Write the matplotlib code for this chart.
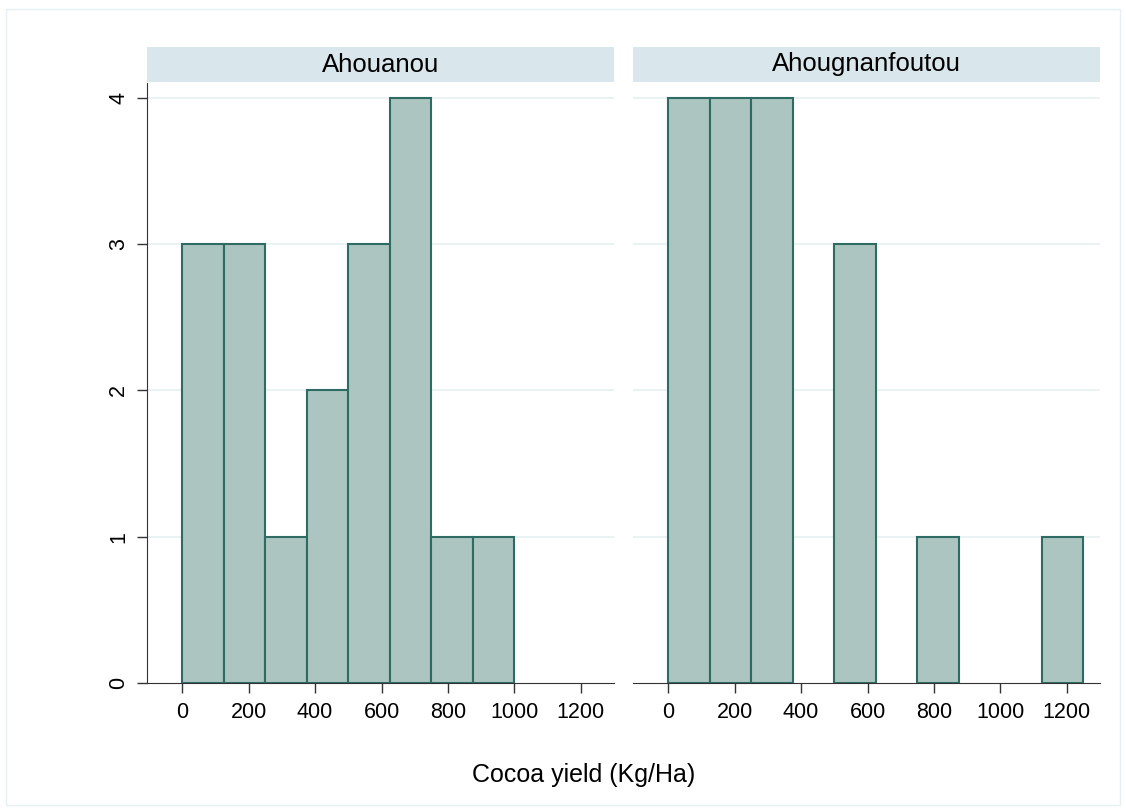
import matplotlib.pyplot as plt
from matplotlib.patches import Rectangle

plt.rcParams['font.family'] = ['Liberation Sans', 'DejaVu Sans']

# histogram bins (Kg/Ha) and frequencies per village
bin_edges = [0, 125, 250, 375, 500, 625, 750, 875, 1000, 1125, 1250]
villages = ["Ahouanou", "Ahougnanfoutou"]
counts_ahouanou = [3, 3, 1, 2, 3, 4, 1, 1, 0, 0]
counts_ahougnanfoutou = [4, 4, 4, 0, 3, 0, 1, 0, 0, 1]
xticks = [0, 200, 400, 600, 800, 1000, 1200]
yticks = [0, 1, 2, 3, 4]

fill = "#adc5c1"
edge = "#2e6b62"
strip = "#d9e6eb"
grid = "#e8f0f2"

fig = plt.figure(figsize=(11.26, 8.10), dpi=100)
fig.patches.append(Rectangle((0.005, 0.006), 0.99, 0.983, transform=fig.transFigure,
                             fill=False, edgecolor="#e6eff1", linewidth=1))

lefts = [0.1306, 0.5622]
w, bottom, h = 0.4147, 0.1568, 0.7407
for i, (name, counts) in enumerate(zip(villages, [counts_ahouanou, counts_ahougnanfoutou])):
    ax = fig.add_axes([lefts[i], bottom, w, h])
    x = [bin_edges[k] for k, c in enumerate(counts) if c > 0]
    widths = [bin_edges[k + 1] - bin_edges[k] for k, c in enumerate(counts) if c > 0]
    y = [c for c in counts if c > 0]
    ax.bar(x, y, width=widths, align='edge', color=fill, edgecolor=edge, linewidth=1.5, zorder=3)
    ax.set_xlim(-106, 1300)
    ax.set_ylim(0, 4.1)
    for t in yticks[1:]:
        ax.axhline(t, color=grid, linewidth=1.2, zorder=1)
    ax.set_xticks(xticks)
    ax.set_xticklabels([str(t) for t in xticks], fontsize=15.5)
    ax.tick_params(axis='x', length=7, width=1, color="#333333", pad=7)
    for s in ["top", "right"]:
        ax.spines[s].set_visible(False)
    ax.spines["bottom"].set_color("#333333")
    if i == 0:
        ax.set_yticks(yticks)
        ax.set_yticklabels([str(t) for t in yticks], fontsize=15.5, rotation=90, va='center')
        ax.tick_params(axis='y', length=7, width=1, color="#333333", pad=6)
        ax.spines["left"].set_color("#333333")
    else:
        ax.set_yticks([])
        ax.spines["left"].set_visible(False)

    sax = fig.add_axes([lefts[i], 1 - 82 / 810, w, 35 / 810])
    sax.set_facecolor(strip)
    sax.set_xticks([])
    sax.set_yticks([])
    for s in sax.spines.values():
        s.set_visible(False)
    sax.text(0.5, 0.5, name, ha='center', va='center', fontsize=18.5, transform=sax.transAxes)

fig.text(584 / 1126, 1 - 775 / 810, "Cocoa yield (Kg/Ha)", ha='center', va='center', fontsize=18)

fig.savefig("out.png", dpi=100)
